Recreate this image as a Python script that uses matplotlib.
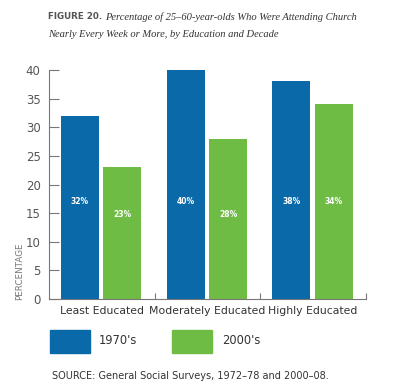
import matplotlib.pyplot as plt
from matplotlib.patches import Rectangle

grupos = ["Least Educated", "Moderately Educated", "Highly Educated"]
anos70 = [32, 40, 38]
anos2000 = [23, 28, 34]
rotulos70 = ["32%", "40%", "38%"]
rotulos2000 = ["23%", "28%", "34%"]
yticks = [0, 5, 10, 15, 20, 25, 30, 35, 40]

azul = "#0a69a8"
verde = "#6fbc45"
cinza = "#555555"

fig = plt.figure(figsize=(4.0, 3.9), dpi=100)
ax = fig.add_axes([0.1225, 0.2333, 0.7925, 0.5872])

largura = 0.36
pos70 = [i + 0.293 for i in range(len(grupos))]
pos2000 = [i + 0.695 for i in range(len(grupos))]

ax.bar(pos70, anos70, width=largura, color=azul)
ax.bar(pos2000, anos2000, width=largura, color=verde)

# altura dos rotulos dentro das barras
y70 = [17, 17, 17]
y2000 = [14.8, 14.8, 17]
for x, y, t in zip(pos70, y70, rotulos70):
    ax.text(x, y, t, color="white", fontsize=5.5, fontweight="bold", ha="center", va="center")
for x, y, t in zip(pos2000, y2000, rotulos2000):
    ax.text(x, y, t, color="white", fontsize=5.5, fontweight="bold", ha="center", va="center")

ax.set_xlim(0, 3)
ax.set_ylim(0, 40)
ax.spines["top"].set_visible(False)
ax.spines["right"].set_visible(False)
ax.spines["left"].set_color("#777777")
ax.spines["bottom"].set_color("#777777")
ax.spines["left"].set_linewidth(0.8)
ax.spines["bottom"].set_linewidth(0.8)

ax.set_yticks(yticks)
ax.tick_params(axis="y", direction="in", length=7, width=0.8, color="#777777",
               labelsize=8.5, labelcolor=cinza, pad=6)
ax.set_xticks([1, 2, 3])
ax.set_xticklabels([])
ax.tick_params(axis="x", direction="in", length=4, width=0.8, color="#777777")
for i, g in enumerate(grupos):
    ax.text(i + 0.5, -1.3, g, ha="center", va="top", fontsize=7.8, color="#333333")

fig.text(0.05, 0.232, "PERCENTAGE", rotation=90, fontsize=6.3, color="#777777",
         ha="center", va="bottom")

# titulo
fig.text(0.12, 0.957, "FIGURE 20.", fontsize=6.3, fontweight="bold", color="#555555",
         ha="left", va="center")
fig.text(0.262, 0.957, "Percentage of 25\u201360-year-olds Who Were Attending Church",
         fontsize=7.6, style="italic", family="Liberation Serif", color="#333333",
         ha="left", va="center")
fig.text(0.12, 0.912, "Nearly Every Week or More, by Education and Decade",
         fontsize=7.6, style="italic", family="Liberation Serif", color="#333333",
         ha="left", va="center")

# legenda
fig.patches.append(Rectangle((0.125, 0.095), 0.1, 0.06, transform=fig.transFigure,
                             color=azul))
fig.text(0.248, 0.128, "1970's", fontsize=8.3, color="#333333", ha="left", va="center")
fig.patches.append(Rectangle((0.43, 0.095), 0.1, 0.06, transform=fig.transFigure,
                             color=verde))
fig.text(0.555, 0.128, "2000's", fontsize=8.3, color="#333333", ha="left", va="center")

fig.text(0.13, 0.036, "SOURCE: General Social Surveys, 1972\u201378 and 2000\u201308.",
         fontsize=7, color="#333333", ha="left", va="center")

plt.savefig("out.png", dpi=100)
